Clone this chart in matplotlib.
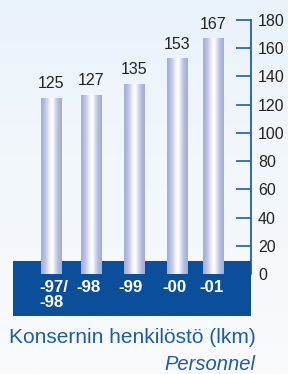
import matplotlib
matplotlib.use("Agg")
import matplotlib.pyplot as plt
import numpy as np
from matplotlib.colors import LinearSegmentedColormap
from matplotlib.patches import Rectangle

plt.rcParams["font.family"] = ["Liberation Sans", "DejaVu Sans"]

# --- data ---
years = ["-97/\n-98", "-98", "-99", "-00", "-01"]
personnel = [125, 127, 135, 153, 167]
y_ticks = [0, 20, 40, 60, 80, 100, 120, 140, 160, 180]

# --- layout (x in pixels from axes left edge) ---
BAR_X = [38.5, 78.5, 121.5, 164.5, 200.5]
LABEL_X = [26, 75.5, 117.5, 161.5, 199]
LABEL_HA = ["left", "center", "center", "center", "center"]
BAR_W = 21

BLUE = "#0b4f9b"
TEXT_BLUE = "#1d5ca6"
AXIS_BLUE = "#1f5ea8"

fig = plt.figure(figsize=(2.88, 3.74), dpi=100)

# pale background gradient
bg = fig.add_axes([0, 0, 1, 1], zorder=-10)
grad = np.linspace(0, 1, 256).reshape(-1, 1)
bg_cmap = LinearSegmentedColormap.from_list("bg", ["#eaf2fa", "#f3f8fc", "#f9fbfd"])
bg.imshow(grad, cmap=bg_cmap, aspect="auto", extent=[0, 1, 0, 1])
bg.axis("off")

ax = fig.add_axes([13 / 288, (374 - 316) / 374, 238 / 288, (316 - 20) / 374])
ax.patch.set_visible(False)
ymin = 180 - 296 / (254 / 180)
ax.set_xlim(0, 238)
ax.set_ylim(ymin, 180)

# dark blue band behind the bar bases
ax.add_patch(Rectangle((0, ymin), 238, 9.2 - ymin, facecolor=BLUE,
                       edgecolor="none", zorder=3))

# cylinder-like bars
bar_cmap = LinearSegmentedColormap.from_list(
    "bar", [(0.0, "#a4afd4"), (0.14, "#b3bcdf"), (0.28, "#cdd3eb"),
            (0.42, "#f4f5fb"), (0.55, "#ffffff"), (0.68, "#d8dcef"),
            (0.82, "#b7bfe0"), (1.0, "#a2acd2")])
bars = ax.bar(BAR_X, personnel, width=BAR_W, facecolor="none",
              edgecolor="none", zorder=4)
profile = np.linspace(0, 1, 64).reshape(1, -1)
for b in bars:
    x0 = b.get_x()
    im = ax.imshow(profile, cmap=bar_cmap, aspect="auto", zorder=4,
                   extent=[x0, x0 + b.get_width(), 0, b.get_height()])
    im.set_clip_path(b)
ax.set_xlim(0, 238)
ax.set_ylim(ymin, 180)

for x, v in zip(BAR_X, personnel):
    ax.text(x, v + 4.5, str(v), ha="center", va="bottom",
            fontsize=11.5, color="#222222", zorder=5)

for x, lab, ha in zip(LABEL_X, years, LABEL_HA):
    ax.text(x, -4.0, lab, ha=ha, va="top", fontsize=12.2, fontweight="bold",
            color="white", linespacing=1.02, zorder=5)

# axis on the right
for s in ["top", "left", "bottom"]:
    ax.spines[s].set_visible(False)
ax.spines["right"].set_color(AXIS_BLUE)
ax.spines["right"].set_linewidth(1.3)
ax.spines["right"].set_bounds(0, 180)
ax.yaxis.tick_right()
ax.set_yticks(y_ticks)
ax.set_xticks([])
ax.tick_params(axis="y", direction="in", length=11, width=1.2,
               color=AXIS_BLUE, pad=5, labelsize=11.5, labelcolor="#222222")

fig.text(9 / 288, (374 - 342.7) / 374, "Konsernin henkilöstö (lkm)",
         fontsize=15, color=TEXT_BLUE, ha="left", va="baseline")
fig.text(255 / 288, (374 - 370) / 374, "Personnel", fontsize=14.5,
         style="italic", color=TEXT_BLUE, ha="right", va="baseline")

fig.savefig("out.png", dpi=100)
